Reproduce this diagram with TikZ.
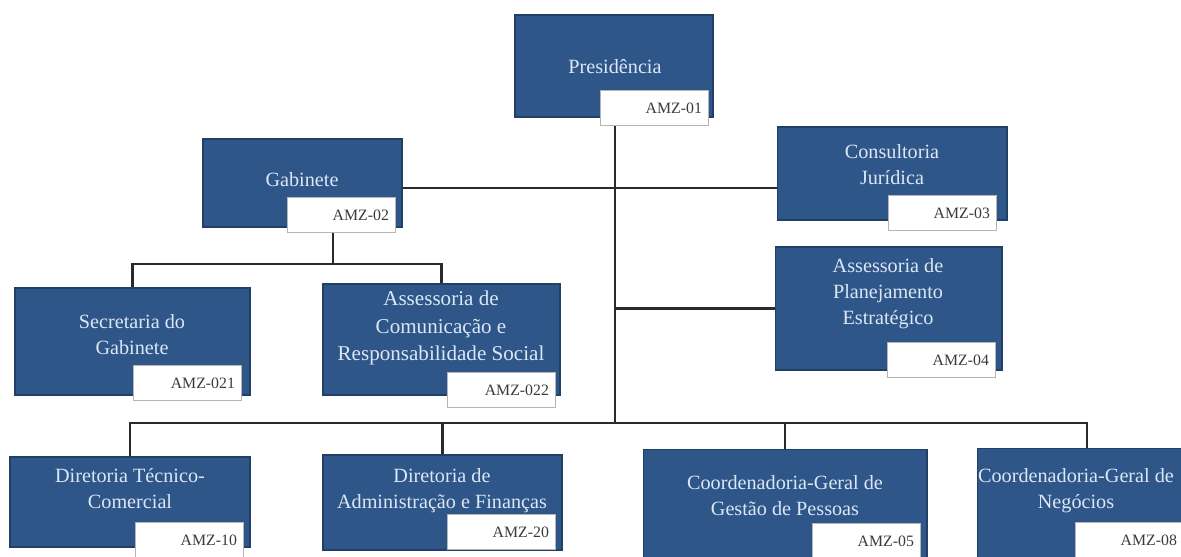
\documentclass[tikz,border=0pt]{standalone}
\usepackage{fontspec}
\setmainfont{Liberation Serif}
\usetikzlibrary{positioning, calc}
\definecolor{unitblue}{HTML}{2F5689}
\definecolor{unitedge}{HTML}{223F66}
\definecolor{unittext}{HTML}{DCE7F5}
\definecolor{codetext}{HTML}{3A3A3A}
\definecolor{codeedge}{HTML}{B5B5B5}
\definecolor{linkgray}{HTML}{2A2A2A}
\tikzset{
  % caixa de uma unidade
  unit/.style={draw=unitedge, line width=0.6pt, fill=unitblue, inner sep=0pt},
  % nome da unidade
  unitlbl/.style={font=\fontsize{11.5}{14.8}\selectfont, text=unittext, align=center},
  % codigo da unidade
  codebox/.style={draw=codeedge, line width=0.5pt, fill=white, minimum height=0.7cm,
    text width=1.9cm, inner xsep=0.13cm, inner ysep=0pt, align=right,
    font=\fontsize{9}{10}\selectfont, text=codetext, anchor=north west},
  % ligacoes do organograma
  link/.style={line width=1.3pt, linkgray},
}
\begin{document}
\begin{tikzpicture}[x=0.02cm, y=-0.02cm]
  \useasboundingbox (0,0) rectangle (1181,557);
  \clip (0,0) rectangle (1181,557);
  % ligacoes
  \coordinate (trunk) at (615,423);
  \coordinate (gabbus) at (333,264);
  % unidades
  \node[unit, minimum width=3.96cm, minimum height=2.04cm] (pres) at (614,66) {};
  \node[unit, minimum width=3.98cm, minimum height=1.76cm] (gab) at (302.5,183) {};
  \node[unit, minimum width=4.60cm, minimum height=1.86cm] (cons) at (892,173.5) {};
  \node[unit, minimum width=4.70cm, minimum height=2.14cm] (sec) at (132.5,341.5) {};
  \node[unit, minimum width=4.74cm, minimum height=2.22cm] (asscom) at (441.5,339.5) {};
  \node[unit, minimum width=4.54cm, minimum height=2.46cm] (plan) at (888.5,308.5) {};
  \node[unit, minimum width=4.80cm, minimum height=1.80cm] (dirtec) at (130,502) {};
  \node[unit, minimum width=4.78cm, minimum height=1.90cm] (diradm) at (442.5,502.5) {};
  \node[unit, minimum width=5.68cm, minimum height=2.50cm] (coordp) at (785,512) {};
  \node[unit, minimum width=4.40cm, minimum height=2.50cm] (coordn) at (1087,511) {};

  \draw[link] (trunk |- pres.south) -- (trunk);
  \draw[link] ([shift={(0,5)}]gab.east) -- ([shift={(0,5)}]gab.east -| cons.west);
  \draw[link] (trunk |- plan.west) -- (plan.west);
  \draw[link] (gabbus |- gab.south) -- (gabbus);
  \draw[link] (sec.north) |- (gabbus) -| (asscom.north);
  \draw[link] (dirtec.north) |- (trunk) -| (coordn.north);
  \draw[link] (diradm.north) -- (diradm.north |- trunk);
  \draw[link] (coordp.north) -- (coordp.north |- trunk);

  \node[unitlbl] (pres-t) at (615,67) {Presidência};
  \node[unitlbl] (gab-t) at (302,180) {Gabinete};
  \node[unitlbl] (cons-t) at (892,165) {Consultoria\\Jurídica};
  \node[unitlbl] (sec-t) at (132,335) {Secretaria do\\Gabinete};
  \node[unitlbl, font=\fontsize{12}{15.5}\selectfont] (asscom-t) at (441,328)
    {Assessoria de\\Comunicação e\\Responsabilidade Social};
  \node[unitlbl] (plan-t) at (888,294) {Assessoria de\\Planejamento\\Estratégico};
  \node[unitlbl] (dirtec-t) at (130,489) {Diretoria Técnico-\\Comercial};
  \node[unitlbl] (diradm-t) at (442,491) {Diretoria de\\Administração e Finanças};
  \node[unitlbl] (coordp-t) at (785,496) {Coordenadoria-Geral de\\Gestão de Pessoas};
  \node[unitlbl] (coordn-t) at (1076,491) {Coordenadoria-Geral de\\Negócios};

  % codigos
  \node[codebox] (pres-c) at (600,90) {AMZ-01};
  \node[codebox] (gab-c) at (287,197) {AMZ-02};
  \node[codebox] (cons-c) at (888,195) {AMZ-03};
  \node[codebox] (sec-c) at (133,365) {AMZ-021};
  \node[codebox] (asscom-c) at (447,372) {AMZ-022};
  \node[codebox] (plan-c) at (887,342) {AMZ-04};
  \node[codebox] (dirtec-c) at (135,522) {AMZ-10};
  \node[codebox] (diradm-c) at (447,514) {AMZ-20};
  \node[codebox] (coordp-c) at (812,523) {AMZ-05};
  \node[codebox] (coordn-c) at (1075,522) {AMZ-08};
\end{tikzpicture}
\end{document}
